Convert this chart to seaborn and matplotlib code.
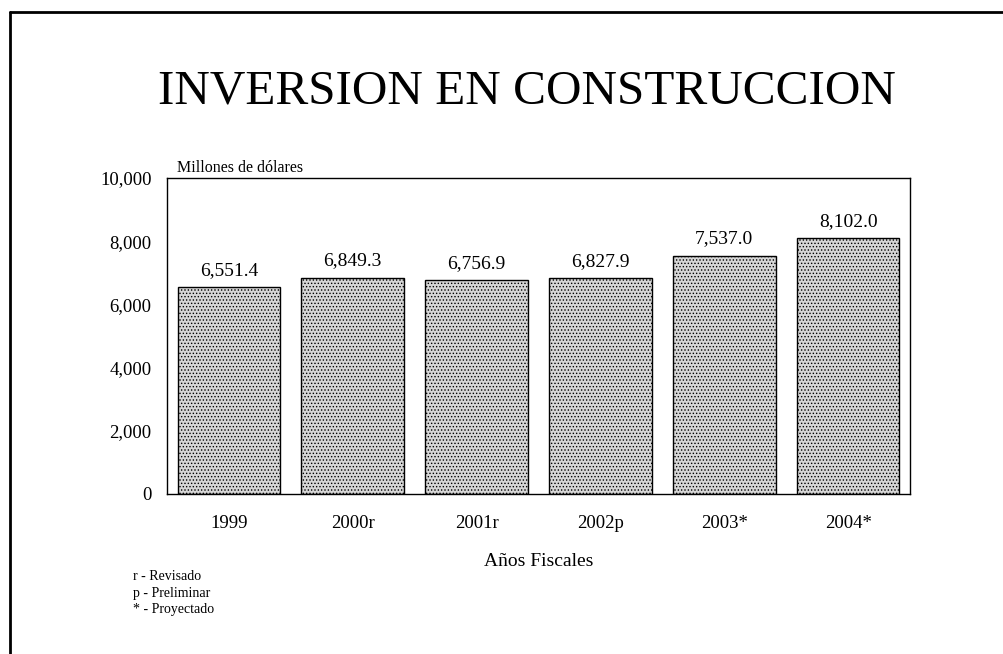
import matplotlib
matplotlib.use("Agg")
import matplotlib.pyplot as plt
import seaborn as sns
import pandas as pd
from matplotlib.lines import Line2D

categories = ["1999", "2000r", "2001r", "2002p", "2003*", "2004*"]
values = [6551.4, 6849.3, 6756.9, 6827.9, 7537.0, 8102.0]
value_labels = ["6,551.4", "6,849.3", "6,756.9", "6,827.9", "7,537.0", "8,102.0"]
yticks = [0, 2000, 4000, 6000, 8000, 10000]
ytick_labels = ["0", "2,000", "4,000", "6,000", "8,000", "10,000"]
footnotes = ["r - Revisado", "p - Preliminar", "* - Proyectado"]

sns.set_theme(style="white")
plt.rcParams['font.family'] = ['Liberation Serif', 'DejaVu Serif']
plt.rcParams['text.color'] = 'black'
plt.rcParams['axes.labelcolor'] = 'black'
plt.rcParams['xtick.color'] = 'black'
plt.rcParams['ytick.color'] = 'black'
plt.rcParams['hatch.color'] = '#a8a8a8'
plt.rcParams['hatch.linewidth'] = 0.6

W, H = 1004, 654
fig = plt.figure(figsize=(W/100, H/100), dpi=100)
ax = fig.add_axes([167/W, 1-494/H, (910-167)/W, (494-178)/H])

df = pd.DataFrame({"cat": categories, "val": values})
sns.barplot(data=df, x="cat", y="val", ax=ax, color="#d6d6d6", width=0.83,
            edgecolor="black", linewidth=1.0, saturation=1)
for p in ax.patches:
    p.set_hatch('.....')
    p.set_edgecolor('black')

ax.set_ylim(0, 10000)
ax.set_xlim(-0.5, len(categories)-0.5)
ax.set_yticks(yticks)
ax.set_yticklabels(ytick_labels, fontsize=13.5)
ax.tick_params(axis='y', length=0, pad=11)
ax.tick_params(axis='x', length=0, pad=15, labelsize=13.5)
ax.set_xlabel("Años Fiscales", fontsize=14, labelpad=15)
ax.set_ylabel("")
for s in ax.spines.values():
    s.set_visible(True)
    s.set_color("black")
    s.set_linewidth(1.0)

for i, (v, lab) in enumerate(zip(values, value_labels)):
    ax.annotate(lab, (i, v), xytext=(0, 6), textcoords="offset points",
                ha="center", va="bottom", fontsize=14)

fig.text(177/W, 1-172/H, "Millones de dólares", fontsize=11.5, ha="left", va="baseline")
fig.text(527/W, 1-91/H, "INVERSION EN CONSTRUCCION", fontsize=35.5, ha="center", va="center")
for k, t in enumerate(footnotes):
    fig.text(133/W, 1-(577+16*k)/H, t, fontsize=10, ha="left", va="center")

fig.add_artist(Line2D([10/W, 10/W], [0, 1-12/H], color="black", lw=2, transform=fig.transFigure))
fig.add_artist(Line2D([10/W, 1], [1-12/H, 1-12/H], color="black", lw=2, transform=fig.transFigure))

fig.savefig("out.png", dpi=100)
